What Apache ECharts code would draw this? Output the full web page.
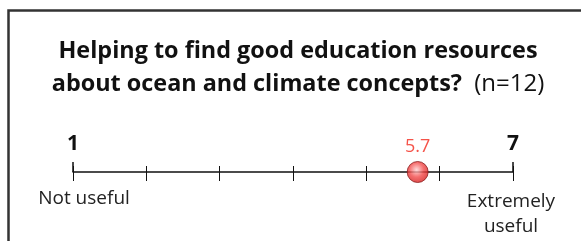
<!DOCTYPE html>
<html>
<head>
<meta charset="utf-8">
<script src="https://cdn.jsdelivr.net/npm/echarts@6/dist/echarts.min.js"></script>
<style>
  html, body { margin: 0; padding: 0; background: #fff; }
  #chart { width: 581px; height: 241px; }
</style>
</head>
<body>
<div id="chart"></div>
<script>
// scale and result
const scaleMin = 1;
const scaleMax = 7;
const endValues = [1, 7];
const endLabels = ['Not useful', 'Extremely\nuseful'];
const meanValue = [5.7];
const titleLines = ['Helping to find good education resources', 'about ocean and climate concepts?'];
const sampleNote = '(n=12)';

const font = '"Open Sans", "Noto Sans", sans-serif';

const chart = echarts.init(document.getElementById('chart'));

const option = {
  animation: false,
  title: {
    text: titleLines[0] + '\n' + titleLines[1] + '  {n|' + sampleNote + '}',
    left: 293,
    textAlign: 'center',
    top: 30,
    textStyle: {
      fontFamily: font,
      fontWeight: 'bold',
      fontSize: 23.4,
      color: '#111',
      lineHeight: 33,
      rich: {
        n: { fontFamily: font, fontWeight: 'normal', fontSize: 24, color: '#111', lineHeight: 33 }
      }
    }
  },
  grid: { left: 73, right: 68, top: 122, bottom: 69 },
  xAxis: [
    {
      type: 'value', min: scaleMin, max: scaleMax, interval: 1,
      axisLine: { show: true, lineStyle: { color: '#111', width: 1.5 } },
      axisTick: { show: true, inside: true, length: 6, lineStyle: { color: '#111', width: 1 } },
      axisLabel: {
        show: true, inside: true, margin: 17,
        customValues: endValues,
        fontFamily: font, fontWeight: 'bold', fontSize: 21, color: '#111'
      },
      splitLine: { show: false }
    },
    {
      type: 'value', min: scaleMin, max: scaleMax, interval: 1, position: 'bottom',
      axisLine: { show: false },
      axisTick: { show: true, inside: false, length: 9, lineStyle: { color: '#111', width: 1 } },
      axisLabel: { show: false },
      splitLine: { show: false }
    },
    {
      type: 'value', min: scaleMin, max: scaleMax, interval: 1, position: 'bottom',
      axisLine: { show: false },
      axisTick: { show: true, inside: true, length: 10, customValues: endValues, lineStyle: { color: '#111', width: 1.5 } },
      axisLabel: { show: false },
      splitLine: { show: false }
    }
  ],
  yAxis: { type: 'value', min: 0, max: 1, show: false },
  graphic: [
    {
      type: 'rect', left: 6, top: 8, silent: true,
      shape: { width: 640, height: 300 },
      style: { fill: 'none', stroke: '#333', lineWidth: 2.5 }
    },
    {
      type: 'text', x: 84, y: 189,
      style: { text: endLabels[0], font: '19px ' + font, fill: '#222', align: 'center', verticalAlign: 'top' }
    },
    {
      type: 'text', x: 511, y: 189,
      style: { text: endLabels[1], font: '19px ' + font, fill: '#222', align: 'center', verticalAlign: 'top', lineHeight: 25 }
    }
  ],
  series: [
    {
      type: 'scatter',
      data: meanValue.map(v => [v, 0]),
      clip: false,
      symbolSize: 21,
      itemStyle: {
        color: {
          type: 'radial', x: 0.45, y: 0.4, r: 0.6,
          colorStops: [
            { offset: 0, color: '#ffd0d0' },
            { offset: 0.55, color: '#f24a4a' },
            { offset: 1, color: '#d61e1e' }
          ]
        },
        borderColor: '#8a1f1f',
        borderWidth: 1
      },
      label: {
        show: true, position: 'top', distance: 5,
        formatter: p => String(p.value[0]),
        fontFamily: font, fontSize: 18, color: '#f2281c'
      }
    }
  ]
};

chart.setOption(option);
</script>
</body>
</html>
